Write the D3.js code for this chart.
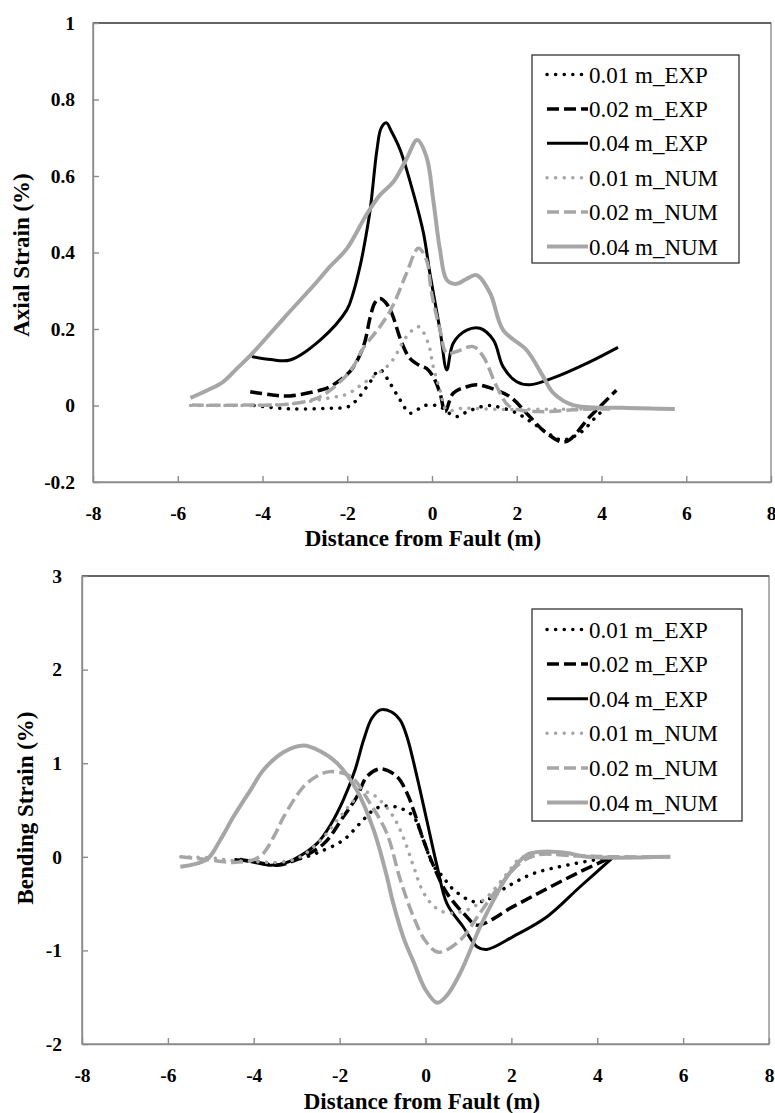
<!DOCTYPE html>
<html>
<head>
<meta charset="utf-8">
<script src="https://cdn.jsdelivr.net/npm/d3@7"></script>
<style>
body{margin:0;background:#fff;}
</style>
</head>
<body>
<svg id="fig" width="775" height="1113"></svg>
<script>
// legend labels, same order as the series arrays below
const seriesNames = ['0.01 m_EXP','0.02 m_EXP','0.04 m_EXP','0.01 m_NUM','0.02 m_NUM','0.04 m_NUM'];

const ticksX = [-8,-6,-4,-2,0,2,4,6,8];
const axialTicksY = [-0.2,0,0.2,0.4,0.6,0.8,1];
const bendingTicksY = [-2,-1,0,1,2,3];

// Axial strain (%) vs distance from fault (m), [x, y]
const axialExp01 = [[-4.2,0.0],[-3.35,-0.009],[-2.4,-0.007],[-2.0,-0.004],[-1.78,0.014],[-1.5,0.055],[-1.23,0.093],[-0.99,0.058],[-0.75,0.014],[-0.52,-0.02],[-0.3,-0.008],[-0.13,0.001],[0.19,-0.003],[0.35,-0.016],[0.58,-0.029],[0.8,-0.018],[1.05,-0.007],[1.3,0.0],[1.53,-0.003],[2.0,-0.02],[2.38,-0.046],[2.7,-0.07],[3.06,-0.09],[3.49,-0.072],[3.96,-0.02],[4.2,-0.003]];
const axialExp02 = [[-4.29,0.036],[-3.8,0.028],[-3.35,0.025],[-2.64,0.04],[-2.41,0.049],[-1.93,0.09],[-1.62,0.154],[-1.46,0.23],[-1.35,0.268],[-1.23,0.28],[-1.1,0.27],[-0.95,0.241],[-0.71,0.163],[-0.52,0.123],[-0.3,0.105],[-0.13,0.097],[0.03,0.075],[0.19,0.032],[0.31,-0.016],[0.5,0.032],[0.82,0.049],[1.05,0.054],[1.29,0.049],[1.84,0.023],[2.23,-0.02],[2.7,-0.072],[3.14,-0.095],[3.73,-0.029],[4.35,0.04]];
const axialExp04 = [[-4.25,0.128],[-3.8,0.12],[-3.35,0.119],[-2.64,0.171],[-2.01,0.25],[-1.86,0.294],[-1.7,0.363],[-1.62,0.406],[-1.46,0.511],[-1.3,0.668],[-1.2,0.725],[-1.08,0.739],[-0.95,0.715],[-0.75,0.668],[-0.44,0.555],[-0.2,0.45],[-0.05,0.346],[0.19,0.197],[0.35,0.093],[0.5,0.163],[0.82,0.197],[1.13,0.202],[1.45,0.171],[1.68,0.101],[2.0,0.062],[2.31,0.054],[2.86,0.072],[3.65,0.11],[4.39,0.152]];
const axialNum01 = [[-5.7,0.0],[-4.5,0.0],[-3.35,0.004],[-2.41,0.02],[-2.0,0.03],[-1.62,0.058],[-0.99,0.11],[-0.6,0.18],[-0.32,0.206],[-0.09,0.163],[0.03,0.101],[0.19,0.04],[0.35,-0.012],[0.74,-0.007],[1.53,-0.01],[2.5,-0.01],[4.0,-0.009]];
const axialNum02 = [[-5.67,0.001],[-4.5,0.001],[-3.35,0.004],[-2.64,0.023],[-1.93,0.09],[-1.62,0.15],[-1.23,0.206],[-1.0,0.245],[-0.83,0.284],[-0.6,0.346],[-0.32,0.411],[-0.13,0.38],[-0.01,0.294],[0.19,0.197],[0.35,0.136],[0.58,0.141],[0.97,0.154],[1.21,0.128],[1.53,0.049],[1.84,-0.003],[2.55,-0.016],[3.5,-0.01],[4.2,-0.009]];
const axialNum04 = [[-5.7,0.02],[-5.3,0.04],[-4.93,0.062],[-4.6,0.097],[-4.25,0.135],[-3.5,0.228],[-2.72,0.323],[-2.41,0.363],[-2.01,0.41],[-1.54,0.5],[-1.23,0.55],[-0.91,0.585],[-0.6,0.645],[-0.35,0.694],[-0.13,0.65],[0.03,0.537],[0.19,0.406],[0.35,0.328],[0.58,0.318],[0.8,0.33],[1.05,0.341],[1.37,0.294],[1.68,0.197],[2.23,0.145],[2.6,0.08],[2.86,0.033],[3.33,0.001],[4.5,-0.006],[5.73,-0.009]];

// Bending strain (%) vs distance from fault (m), [x, y]
const bendExp01 = [[-4.3,-0.03],[-3.9,-0.05],[-3.46,-0.07],[-3.0,-0.03],[-2.53,0.04],[-1.91,0.18],[-1.52,0.36],[-1.21,0.5],[-0.98,0.54],[-0.59,0.52],[-0.28,0.43],[-0.05,0.18],[0.19,-0.1],[0.38,-0.2],[0.65,-0.35],[1.12,-0.48],[1.43,-0.46],[1.9,-0.32],[2.51,-0.18],[3.29,-0.09],[4.35,0.0]];
const bendExp02 = [[-4.3,-0.03],[-3.9,-0.06],[-3.46,-0.09],[-3.0,-0.03],[-2.37,0.14],[-1.91,0.43],[-1.6,0.64],[-1.36,0.86],[-1.05,0.94],[-0.67,0.86],[-0.43,0.68],[-0.28,0.5],[-0.05,0.18],[0.19,-0.1],[0.5,-0.39],[0.96,-0.64],[1.2,-0.73],[2.05,-0.53],[2.83,-0.34],[3.6,-0.16],[4.35,0.0]];
const bendExp04 = [[-4.45,-0.03],[-4.08,-0.05],[-3.62,-0.09],[-3.3,-0.07],[-3.07,-0.03],[-2.53,0.14],[-2.2,0.35],[-1.91,0.61],[-1.64,0.93],[-1.44,1.25],[-1.25,1.48],[-1.05,1.57],[-0.8,1.55],[-0.59,1.46],[-0.43,1.28],[-0.2,0.86],[0.03,0.39],[0.27,-0.1],[0.5,-0.5],[0.88,-0.75],[1.2,-0.96],[1.43,-0.99],[2.05,-0.85],[2.83,-0.64],[3.6,-0.32],[4.38,0.0]];
const bendNum01 = [[-5.7,0.0],[-5.0,-0.01],[-4.5,-0.04],[-4.0,-0.05],[-3.5,-0.06],[-3.0,-0.02],[-2.5,0.15],[-2.0,0.42],[-1.6,0.63],[-1.35,0.69],[-1.05,0.6],[-0.75,0.43],[-0.51,0.2],[-0.28,-0.1],[-0.05,-0.38],[0.2,-0.53],[0.5,-0.6],[0.96,-0.57],[1.43,-0.43],[1.9,-0.18],[2.2,-0.02],[2.7,0.03],[3.5,0.01],[4.4,0.0]];
const bendNum02 = [[-5.71,0.0],[-5.09,-0.03],[-4.47,-0.06],[-4.0,-0.03],[-3.77,0.04],[-3.46,0.28],[-3.31,0.42],[-2.84,0.75],[-2.5,0.87],[-2.22,0.91],[-1.75,0.86],[-1.29,0.57],[-0.9,0.25],[-0.59,-0.24],[-0.28,-0.64],[0.0,-0.9],[0.3,-1.02],[0.81,-0.89],[1.27,-0.6],[1.66,-0.35],[2.2,-0.07],[2.6,0.02],[3.5,0.01],[4.4,0.0],[5.7,0.0]];
const bendNum04 = [[-5.71,-0.106],[-5.09,-0.027],[-4.78,0.18],[-4.47,0.43],[-4.08,0.71],[-3.77,0.93],[-3.3,1.12],[-2.84,1.19],[-2.46,1.13],[-2.06,1.0],[-1.6,0.71],[-1.21,0.29],[-0.9,-0.21],[-0.75,-0.5],[-0.5,-0.88],[-0.28,-1.12],[0.0,-1.42],[0.27,-1.56],[0.5,-1.48],[0.81,-1.24],[1.27,-0.75],[1.6,-0.45],[1.9,-0.21],[2.36,0.02],[2.75,0.055],[3.29,0.04],[3.76,0.0],[5.7,0.0]];

// line styles per series (index matches seriesNames)
const GRAY = '#a6a6a6';
const FONT = '"Liberation Serif"';
const lineStyles = [
  {color:'#000', width:3.5, dash:'0.1 8.5', cap:'round'},
  {color:'#000', width:3.5, dash:'12 5', cap:'butt'},
  {color:'#000', width:3, dash:null, cap:'butt'},
  {color:GRAY, width:3.5, dash:'0.1 8.5', cap:'round'},
  {color:GRAY, width:3.5, dash:'12 5', cap:'butt'},
  {color:GRAY, width:4, dash:null, cap:'butt'}
];

const svg = d3.select('#fig');

function styleLine(sel){
  sel.style('fill','none')
     .style('stroke',(d,i)=>lineStyles[i].color)
     .style('stroke-width',(d,i)=>lineStyles[i].width)
     .style('stroke-dasharray',(d,i)=>lineStyles[i].dash)
     .style('stroke-linecap',(d,i)=>lineStyles[i].cap)
     .style('stroke-linejoin','round');
}

function drawPanel(opt){
  const g = svg.append('g');
  const xScale = d3.scaleLinear().domain([-8,8]).range([opt.left,opt.right]);
  const yScale = d3.scaleLinear().domain(d3.extent(opt.ticksY)).range([opt.bottom,opt.top]);

  // frame
  g.append('rect')
   .attr('x',opt.left).attr('y',opt.top)
   .attr('width',opt.right-opt.left).attr('height',opt.bottom-opt.top)
   .style('fill','none').style('stroke','#8c8c8c').style('stroke-width',1.4);
  g.append('line')
   .attr('x1',opt.left).attr('x2',opt.right).attr('y1',opt.top).attr('y2',opt.top)
   .style('stroke','#4d4d4d').style('stroke-width',1.4);

  // axes, ticks pointing inside
  const xAxis = d3.axisBottom(xScale).tickValues(ticksX).tickFormat(String)
                  .tickSizeInner(-6).tickSizeOuter(0).tickPadding(24);
  const xAxisDraw = g.append('g').attr('transform',`translate(0,${opt.bottom})`).call(xAxis);
  const yAxis = d3.axisLeft(yScale).tickValues(opt.ticksY).tickFormat(String)
                  .tickSizeInner(-6).tickSizeOuter(0).tickPadding(opt.yPad);
  const yAxisDraw = g.append('g').attr('transform',`translate(${opt.left},0)`).call(yAxis);
  [xAxisDraw,yAxisDraw].forEach(a=>{
    a.attr('font-family',null).attr('font-size',null);
    a.select('.domain').style('stroke','#8c8c8c').style('stroke-width',1.4);
    a.selectAll('.tick line').style('stroke','#8c8c8c').style('stroke-width',1.4);
    a.selectAll('.tick text')
     .style('font-family',FONT)
     .style('font-size','19.5px').style('font-weight','bold').style('fill','#000');
  });

  // titles
  g.append('text').attr('x',opt.xTitle[0]).attr('y',opt.xTitle[1])
   .attr('text-anchor','middle').style('font-family',FONT)
   .style('font-size','23px').style('font-weight','bold')
   .text('Distance from Fault (m)');
  g.append('text').attr('transform',`translate(${opt.yTitle[0]},${opt.yTitle[1]}) rotate(-90)`)
   .attr('text-anchor','middle').style('font-family',FONT)
   .style('font-size','23px').style('font-weight','bold')
   .text(opt.yLabel);

  // curves
  const lineGen = d3.line().x(d=>xScale(d[0])).y(d=>yScale(d[1])).curve(d3.curveCatmullRom.alpha(0.5));
  g.append('g').selectAll('path').data(opt.series).enter()
   .append('path').attr('d',d=>lineGen(d)).call(styleLine);

  // legend
  const lg = g.append('g');
  lg.append('rect').attr('x',opt.legend.x).attr('y',opt.legend.y)
    .attr('width',opt.legend.w).attr('height',opt.legend.h)
    .style('fill','#fff').style('stroke','#222').style('stroke-width',1.2);
  const rows = lg.selectAll('.row').data(seriesNames).enter().append('g')
    .attr('transform',(d,i)=>`translate(0,${opt.legend.row0 + i*opt.legend.step})`);
  rows.append('line').attr('x1',opt.legend.x+15).attr('x2',opt.legend.x+56)
    .attr('y1',0).attr('y2',0).call(styleLine);
  rows.append('text').attr('x',opt.legend.x+57).attr('y',8)
    .style('font-family',FONT).style('font-size','23px').style('fill','#000').text(d=>d);
}

drawPanel({
  left:93, right:771, top:23, bottom:482,
  ticksY:axialTicksY, yPad:18,
  series:[axialExp01,axialExp02,axialExp04,axialNum01,axialNum02,axialNum04],
  xTitle:[423,546], yTitle:[29,255], yLabel:'Axial Strain (%)',
  legend:{x:532, y:55, w:207, h:208, row0:74.5, step:34.4}
});

drawPanel({
  left:82, right:769, top:576, bottom:1044,
  ticksY:bendingTicksY, yPad:20,
  series:[bendExp01,bendExp02,bendExp04,bendNum01,bendNum02,bendNum04],
  xTitle:[422,1109], yTitle:[33,808], yLabel:'Bending Strain (%)',
  legend:{x:532, y:609, w:210, h:212, row0:629.5, step:34.6}
});
</script>
</body>
</html>
